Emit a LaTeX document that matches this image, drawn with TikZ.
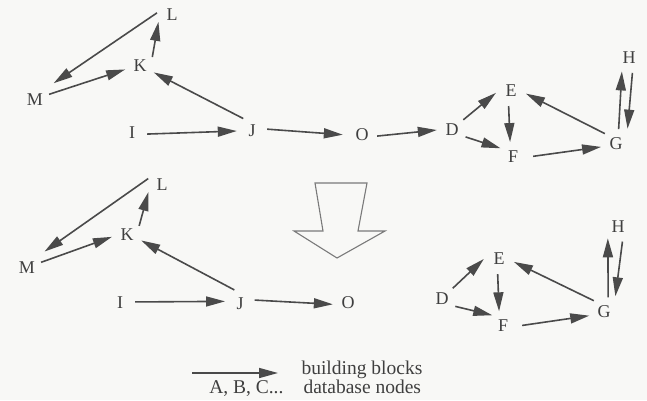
\documentclass[tikz,border=0pt]{standalone}
\usepackage{fontspec}
\setmainfont{Liberation Serif}
\usetikzlibrary{arrows.meta}
\definecolor{inkgray}{HTML}{4A4A4A}
\definecolor{txtgray}{HTML}{3F3F3F}
\definecolor{paper}{HTML}{F8F8F6}
\definecolor{outline}{HTML}{7A7A7A}

\begin{document}
\begin{tikzpicture}[
  x=1pt, y=-1pt,
  every node/.style={font=\fontsize{18}{21}\selectfont, text=txtgray},
  letter/.style={circle, minimum size=30pt, inner sep=0pt},
  link/.style={draw=inkgray, line width=1.6pt, -{Triangle[length=19pt, width=10pt]}},
  keytext/.style={font=\fontsize{19.5}{22}\selectfont},
]

% Paper
\fill[paper] (0,0) rectangle (647,400);

% Top graph: nodes
\node[letter] (tL) at (172,15) {L};
\node[letter] (tK) at (140,66) {K};
\node[letter] (tM) at (35,100) {M};
\node[letter] (tI) at (132,133) {I};
\node[letter] (tJ) at (252,131) {J};
\node[letter] (tO) at (362,135) {O};
\node[letter] (tD) at (452,130) {D};
\node[letter] (tE) at (511,91) {E};
\node[letter] (tF) at (513,157) {F};
\node[letter] (tG) at (616,144) {G};
\node[letter] (tH) at (629,58) {H};

% Top graph: building blocks
\draw[link, shorten >=10pt] (tL.172) -- (tM.47);
\draw[link] (tM.22) -- (tK.193);
\draw[link] (tK.36) -- (tL.207);
\draw[link] (tJ.125) -- (tK.335);
\draw[link] (tI.356) -- (tJ.180);
\draw[link, shorten >=4pt] (tJ.7) -- (tO.180);
\draw[link] (tO.356) -- (tD.180);
\draw[link] (tD.42) -- (tE.187);
\draw[link] (tD.333) -- (tF.145);
\draw[link] (tE.261) -- (tF.101);
\draw[link, shorten <=5pt] (tF.0) -- (tG.191);
\draw[link] (tG.137) -- (tE.350);
\draw[link] (tG.80) -- (tH.242);
\draw[link, shorten >=5pt] (tH.283) -- (tG.43);

% Hollow arrow
\draw[outline, line width=1.1pt, line join=miter]
  (315,183) -- (367,183) -- (358,231) -- (385,231) -- (337,258)
  -- (294,231) -- (323,231) -- cycle;

% Bottom graph: nodes
\node[letter] (bL) at (162,185) {L};
\node[letter] (bK) at (127,235) {K};
\node[letter] (bM) at (27,268) {M};
\node[letter] (bI) at (120,303) {I};
\node[letter] (bJ) at (240,304) {J};
\node[letter] (bO) at (348,303) {O};
\node[letter] (bD) at (442,299) {D};
\node[letter] (bE) at (499,259) {E};
\node[letter] (bF) at (503,326) {F};
\node[letter] (bG) at (604,312) {G};
\node[letter] (bH) at (618,227) {H};

% Bottom graph: building blocks
\draw[link, shorten >=9pt] (bL.155) -- (bM.48);
\draw[link] (bM.22) -- (bK.187);
\draw[link] (bK.37) -- (bL.207);
\draw[link] (bJ.112) -- (bK.339);
\draw[link] (bI.4) -- (bJ.170);
\draw[link] (bJ.15) -- (bO.185);
\draw[link] (bD.45) -- (bE.180);
\draw[link] (bD.331) -- (bF.135);
\draw[link] (bE.265) -- (bF.105);
\draw[link, shorten <=4pt] (bF.0) -- (bG.194);
\draw[link] (bG.132) -- (bE.349);
\draw[link] (bG.74) -- (bH.228);
\draw[link, shorten >=5pt] (bH.287) -- (bG.45);

% Legend
\coordinate (keyA) at (192,373);
\coordinate (keyB) at (278,373);
\draw[link] (keyA) -- (keyB);
\node[keytext, anchor=base west] (keyblk) at (298,374) {building blocks};
\node[keytext, anchor=base west] (keydb) at (300,393) {database nodes};
\node[keytext, anchor=base east] (keyabc) at (287,393) {A, B, C...};

\end{tikzpicture}
\end{document}
